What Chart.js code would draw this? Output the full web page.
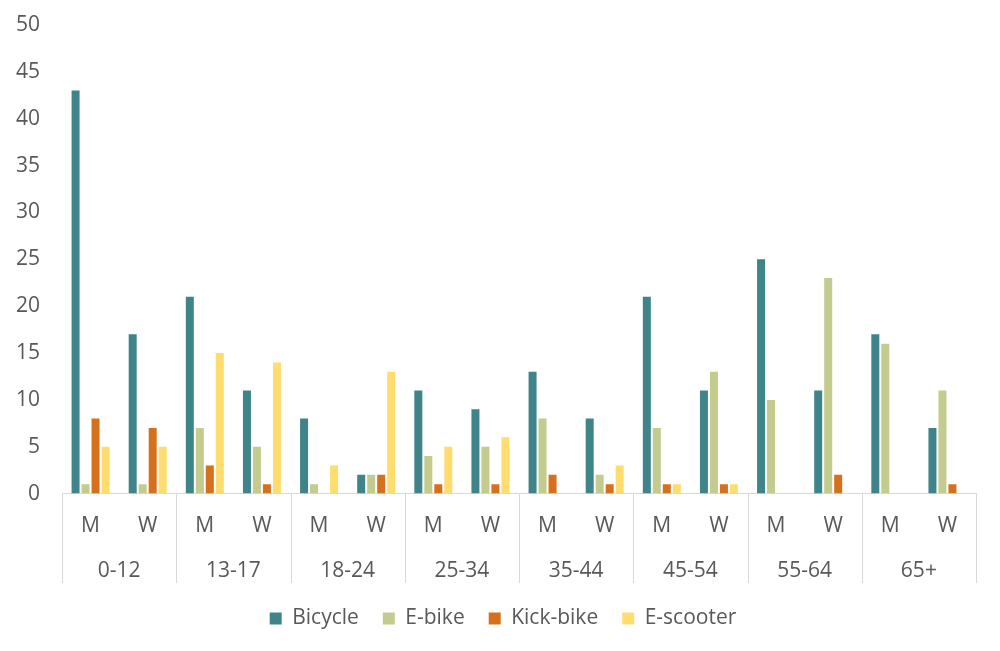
<!DOCTYPE html>
<html>
<head>
  <title>Mobility by age group</title>
  <script src="https://cdn.jsdelivr.net/npm/chart.js"></script>
  <style>
    html, body { margin: 0; padding: 0; background: #fff; }
    #wrap { width: 1000px; height: 651px; }
  </style>
</head>
<body>
  <div id="wrap"><canvas id="mobility-chart"></canvas></div>
  <script>
    // Data
    const ageGroups = ['0-12', '13-17', '18-24', '25-34', '35-44', '45-54', '55-64', '65+'];
    const genders = ['M', 'W'];
    const bicycle  = [43, 17, 21, 11, 8, 2, 11, 9, 13, 8, 21, 11, 25, 11, 17, 7];
    const eBike    = [1, 1, 7, 5, 1, 2, 4, 5, 8, 2, 7, 13, 10, 23, 16, 11];
    const kickBike = [8, 7, 3, 1, 0, 2, 1, 1, 2, 1, 1, 1, 0, 2, 0, 1];
    const eScooter = [5, 5, 15, 14, 3, 13, 5, 6, 0, 3, 1, 1, 0, 0, 0, 0];
    const yTicks = [0, 5, 10, 15, 20, 25, 30, 35, 40, 45, 50];

    const labels = [];
    ageGroups.forEach(() => genders.forEach(g => labels.push(g)));

    const textColor = '#595959';
    const lineColor = '#d9d9d9';
    const fontFamily = "'Open Sans', 'Noto Sans', sans-serif";
    const fontSize = 21;

    // Separators between age groups, running through both label rows
    const groupLines = {
      id: 'groupLines',
      afterLayout(chart) {
        // legend sits a little right of centre in the original
        if (chart.legend) {
          chart.legend.left += 10;
          chart.legend.right += 10;
        }
      },
      afterDraw(chart) {
        const x = chart.scales.x;
        const x2 = chart.scales.x2;
        const ctx = chart.ctx;
        const top = chart.chartArea.bottom;
        const bottom = x2.bottom - 1;
        const half = (x.getPixelForValue(1) - x.getPixelForValue(0)) / 2;
        ctx.save();
        ctx.strokeStyle = lineColor;
        ctx.lineWidth = 1;
        for (let i = 0; i <= ageGroups.length; i++) {
          const px = Math.round(x.getPixelForValue(i * 2) - half) + 0.5;
          ctx.beginPath();
          ctx.moveTo(px, top);
          ctx.lineTo(px, bottom);
          ctx.stroke();
        }
        ctx.restore();
      }
    };

    const ctx = document.getElementById('mobility-chart').getContext('2d');
    new Chart(ctx, {
      type: 'bar',
      data: {
        labels: labels,
        datasets: [
          { label: 'Bicycle',   data: bicycle,  backgroundColor: '#3e8489' },
          { label: 'E-bike',    data: eBike,    backgroundColor: '#c4cb8e' },
          { label: 'Kick-bike', data: kickBike, backgroundColor: '#d6701c' },
          { label: 'E-scooter', data: eScooter, backgroundColor: '#fedd6e' },
        ],
      },
      options: {
        responsive: true,
        maintainAspectRatio: false,
        animation: false,
        datasets: {
          bar: { categoryPercentage: 0.7, barPercentage: 0.8 }
        },
        layout: { padding: { top: 25, right: 24, left: 10, bottom: 12 } },
        plugins: {
          tooltip: { enabled: false },
          legend: {
            position: 'bottom',
            labels: {
              color: textColor,
              font: { family: fontFamily, size: fontSize },
              boxWidth: 12,
              boxHeight: 12,
              padding: 24,
            },
          },
        },
        scales: {
          x: {
            grid: { display: false, drawTicks: false },
            border: { color: lineColor },
            ticks: {
              color: textColor,
              font: { family: fontFamily, size: fontSize },
              padding: 20,
              maxRotation: 0,
            },
          },
          x2: {
            type: 'category',
            position: 'bottom',
            labels: ageGroups,
            grid: { display: false, drawTicks: false },
            border: { display: false },
            ticks: {
              color: textColor,
              font: { family: fontFamily, size: fontSize },
              padding: 0,
              maxRotation: 0,
            },
          },
          y: {
            min: 0,
            max: 50,
            afterBuildTicks(scale) {
              scale.ticks = yTicks.map(v => ({ value: v }));
            },
            afterFit(scale) {
              scale.width = 52;
              scale.paddingTop = 0;
              scale.paddingBottom = 0;
            },
            grid: { display: false, drawTicks: false },
            border: { display: false },
            ticks: {
              color: textColor,
              font: { family: fontFamily, size: fontSize },
              padding: 22,
            },
          },
        },
      },
      plugins: [groupLines],
    });
  </script>
</body>
</html>
